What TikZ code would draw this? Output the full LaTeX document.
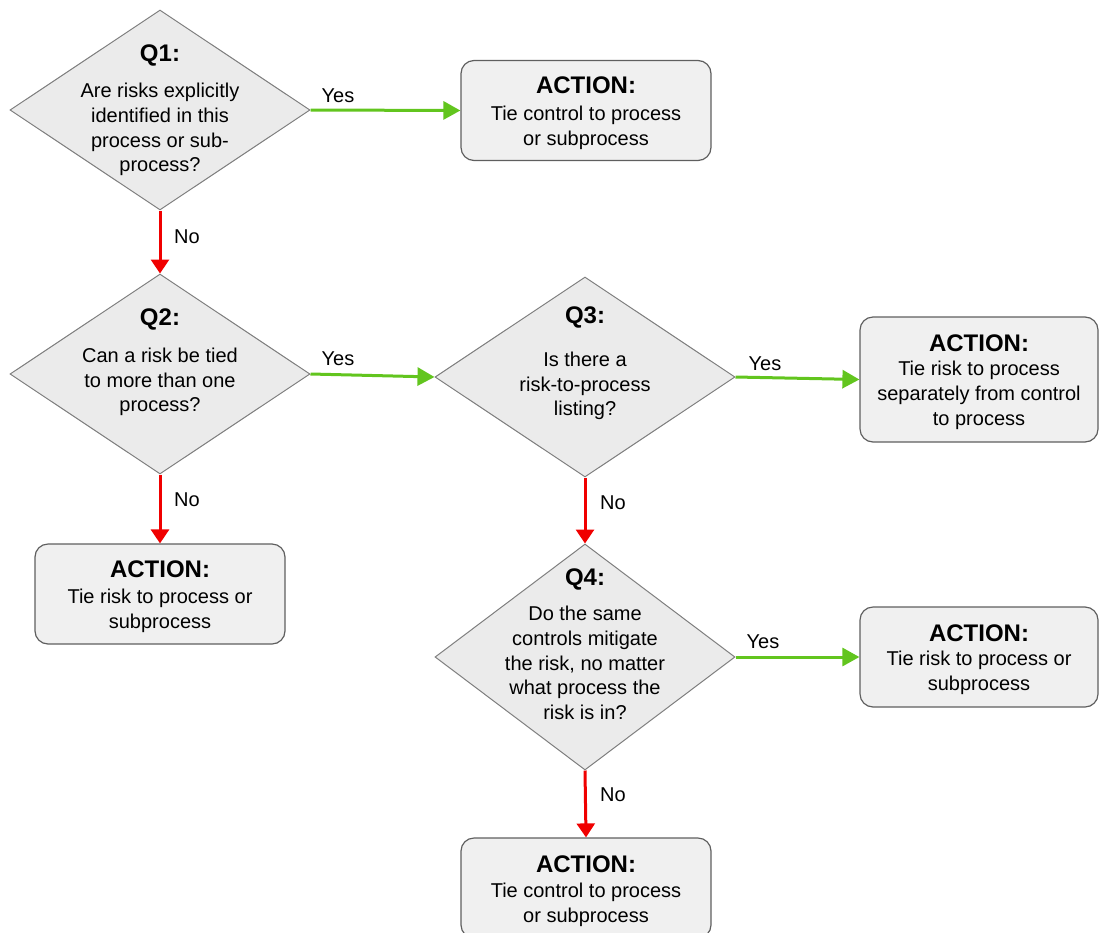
\documentclass[tikz,border=0pt]{standalone}
\usepackage{fontspec}
\setmainfont{Liberation Sans}
\usetikzlibrary{shapes.geometric,arrows.meta}
\definecolor{diafill}{HTML}{EBEBEB}
\definecolor{diadraw}{HTML}{7F7F7F}
\definecolor{boxfill}{HTML}{F0F0F0}
\definecolor{boxdraw}{HTML}{5F5F5F}
\definecolor{yesgreen}{HTML}{62C51E}
\definecolor{nored}{HTML}{F00000}
\tikzset{
  dia/.style={diamond, draw=diadraw, fill=diafill, line width=1pt, inner sep=0pt, minimum width=300pt},
  actbox/.style={rectangle, rounded corners=13pt, draw=boxdraw, fill=boxfill, line width=1.2pt, inner sep=0pt, minimum width=250pt, minimum height=100pt},
  hdr/.style={font=\fontsize{24}{26}\selectfont\bfseries, inner sep=0pt},
  body/.style={font=\fontsize{20}{24.8}\selectfont, align=center, inner sep=0pt},
  lbl/.style={font=\fontsize{20}{24}\selectfont, inner sep=0pt},
  yes/.style={draw=yesgreen, line width=3pt, -{Triangle[length=17pt,width=18pt]}, yesgreen},
  no/.style={draw=nored, line width=3pt, -{Triangle[length=14pt,width=18pt]}, nored},
}
\begin{document}
\begin{tikzpicture}[x=1pt,y=-1pt]
\useasboundingbox (0,0) rectangle (1099,932);
\begin{scope}
\clip (0,0) rectangle (1099,932);
% diamonds
\node[dia, minimum height=200pt] (q1) at (160,110) {};
\node[dia, minimum height=200pt] (q2) at (160,374) {};
\node[dia, minimum height=200pt] (q3) at (585,377) {};
\node[dia, minimum height=226pt] (q4) at (585,657) {};
% boxes
\node[actbox] (a1) at (586,110.5) {};
\node[actbox] (a2) at (160,594) {};
\node[actbox, minimum width=238pt, minimum height=125pt] (a3) at (979,379.5) {};
\node[actbox, minimum width=238pt] (a4) at (979,657) {};
\node[actbox] (a5) at (586,888) {};
\end{scope}
% diamond texts
\node[hdr] (q1h) at (160,55.5) {Q1:};
\node[body] (q1b) at (160,129.5) {Are risks explicitly\\identified in this\\process or sub-\\process?};
\node[hdr] (q2h) at (160,319.5) {Q2:};
\node[body] (q2b) at (160,382) {Can a risk be tied\\to more than one\\process?};
\node[hdr] (q3h) at (585,317.5) {Q3:};
\node[body] (q3b) at (585,386) {Is there a\\risk-to-process\\listing?};
\node[hdr] (q4h) at (585,579.5) {Q4:};
\node[body] (q4b) at (585,663) {Do the same\\controls mitigate\\the risk, no matter\\what process the\\risk is in?};
% box texts
\node[hdr] (a1h) at (586,85) {ACTION:};
\node[body] (a1b) at (586,127.5) {Tie control to process\\or subprocess};
\node[hdr] (a2h) at (160,569) {ACTION:};
\node[body] (a2b) at (160,611) {Tie risk to process or\\subprocess};
\node[hdr] (a3h) at (979,343) {ACTION:};
\node[body] (a3b) at (979,395.5) {Tie risk to process\\separately from control\\to process};
\node[hdr] (a4h) at (979,633) {ACTION:};
\node[body] (a4b) at (979,673) {Tie risk to process or\\subprocess};
\node[hdr] (a5h) at (586,864) {ACTION:};
\node[body] (a5b) at (586,905) {Tie control to process\\or subprocess};
% connectors
\draw[yes] (q1.east) -- (a1.west);
\draw[no] (q1.south) -- (q2.north);
\draw[yes] (q2.east) -- (q3.west);
\draw[no] (q2.south) -- (a2.north);
\draw[yes] (q3.east) -- (a3.west);
\draw[no] (q3.south) -- (q4.north);
\draw[yes] (q4.east) -- (a4.west);
\draw[no] (q4.south) -- (a5.north);
% labels
\node[lbl] (l1) at (338,96) {Yes};
\node[lbl] (l2) at (187,237) {No};
\node[lbl] (l3) at (338,359) {Yes};
\node[lbl] (l4) at (187,500) {No};
\node[lbl] (l5) at (765,364) {Yes};
\node[lbl] (l6) at (613,503) {No};
\node[lbl] (l7) at (763,642) {Yes};
\node[lbl] (l8) at (613,795) {No};
\end{tikzpicture}
\end{document}
